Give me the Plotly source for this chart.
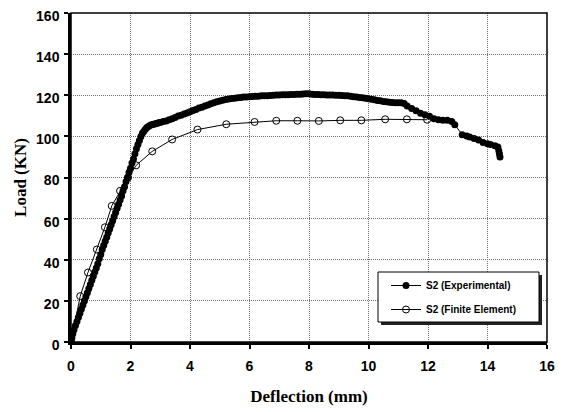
import plotly.graph_objects as go

# Experimental
exp_x = [0.00, 0.03, 0.06, 0.10, 0.15, 0.20, 0.25, 0.30, 0.35, 0.40, 0.45, 0.50, 0.55, 0.60, 0.65,
         0.70, 0.75, 0.80, 0.85, 0.90, 0.95, 1.00, 1.05, 1.10, 1.15, 1.20, 1.25, 1.30, 1.35, 1.40,
         1.45, 1.50, 1.55, 1.60, 1.65, 1.70, 1.75, 1.80, 1.85, 1.90, 1.95, 2.00, 2.05, 2.10, 2.15,
         2.20, 2.25, 2.30, 2.35, 2.40, 2.45, 2.50, 2.55, 2.60, 2.65, 2.70, 2.75, 2.80, 2.85, 2.90,
         2.95,
         3.0, 3.1, 3.2, 3.3, 3.4, 3.5, 3.6, 3.7, 3.8, 3.9, 4.0, 4.1, 4.2, 4.3, 4.4, 4.5, 4.6, 4.7,
         4.8, 4.9, 5.0, 5.1, 5.2, 5.3, 5.4, 5.5, 5.6, 5.7, 5.8, 5.9, 6.0, 6.1, 6.2, 6.3, 6.4, 6.5,
         6.6, 6.7, 6.8, 6.9, 7.0, 7.1, 7.2, 7.3, 7.4, 7.5, 7.6, 7.7, 7.8, 7.9, 8.0,
         8.1, 8.2, 8.3, 8.4, 8.5, 8.6, 8.7, 8.8, 8.9, 9.0, 9.1, 9.2, 9.3, 9.4, 9.5, 9.6, 9.7, 9.8,
         9.9, 10.0, 10.1, 10.2, 10.3, 10.4, 10.5, 10.6, 10.7, 10.8, 10.9, 11.0, 11.1, 11.2,
         11.3, 11.45, 11.6, 11.75, 11.9, 12.05, 12.2, 12.35, 12.5, 12.65, 12.8, 12.9,
         13.15, 13.3, 13.4, 13.55, 13.7, 13.85, 14.0, 14.1, 14.25, 14.35, 14.38, 14.4, 14.42]
exp_y = [0, 2, 4, 6, 8, 10, 12, 14, 16, 18, 20, 22, 24, 26, 28,
         30, 32, 34, 36, 38, 40.5, 42.5, 45, 47, 49, 51, 53, 55, 57, 59,
         61, 63, 65, 67, 69, 71, 73.5, 75.5, 78, 80, 82.5, 84.5, 87, 89, 91.5,
         94, 96, 98, 100, 101.5, 102.5, 103.5, 104.3, 104.8, 105.3, 105.6, 105.8, 106, 106.2, 106.4,
         106.6,
         106.8, 107.2, 107.5, 108.1, 108.6, 109.2, 109.9, 110.3, 110.9, 111.4, 112.0, 112.6, 113.1, 113.8, 114.2, 114.8, 115.3, 115.9,
         116.3, 116.8, 117.2, 117.6, 117.9, 118.2, 118.4, 118.6, 118.8, 118.9, 119.1, 119.1, 119.3, 119.4, 119.5, 119.5, 119.7, 119.8,
         119.8, 119.9, 120.0, 120.1, 120.1, 120.2, 120.2, 120.3, 120.4, 120.4, 120.5, 120.5, 120.6, 120.7, 120.7,
         120.5, 120.4, 120.4, 120.3, 120.2, 120.1, 120.1, 120.1, 120.0, 120.0, 119.9, 119.8, 119.7, 119.5, 119.3, 119.1, 118.9, 118.8,
         118.6, 118.3, 118.0, 117.8, 117.5, 117.3, 117.0, 116.8, 116.6, 116.5, 116.4, 116.4, 116.3, 116.0,
         114.8, 113.5, 112.5, 111.3, 110.5, 109.8, 108.6, 108.1, 107.9, 107.8, 107.2, 105.7,
         100.8, 100.2, 99.7, 99, 98.2, 97, 96.4, 96, 95.4, 94.8, 93, 91.5, 90]

# Finite element
fe_x = [0.0, 0.31, 0.57, 0.87, 1.14, 1.37, 1.65, 1.92, 2.19, 2.73, 3.40, 4.25, 5.22, 6.17,
        6.90, 7.61, 8.33, 9.05, 9.76, 10.56, 11.29, 11.97]
fe_y = [0, 22.3, 33.8, 45, 55.8, 66.2, 73.5, 80.0, 85.9, 92.7, 98.5, 103.3, 105.9, 107,
        107.6, 107.6, 107.5, 107.8, 107.8, 108.3, 108.3, 108.1]

x_ticks = [0, 2, 4, 6, 8, 10, 12, 14, 16]
y_ticks = [0, 20, 40, 60, 80, 100, 120, 140, 160]

fig = go.Figure()
fig.add_trace(go.Scatter(
    x=exp_x, y=exp_y, mode="lines+markers", name="S2 (Experimental)",
    line=dict(color="black", width=1),
    marker=dict(symbol="circle", size=7, color="black"),
    legendgroup="a"))
fig.add_trace(go.Scatter(
    x=fe_x, y=fe_y, mode="lines+markers", name="S2 (Finite Element)",
    line=dict(color="black", width=1),
    marker=dict(symbol="circle-open", size=7, color="black", line=dict(width=1)),
    legendgroup="b"))

OFF = 8  # page body margin
W, H = 563 - OFF, 412 - OFF
L, R, T, B = 71 - OFF, 16, 13 - OFF, 70
pw, ph = W - L - R, H - T - B

def px2paper_x(p):
    return (p - OFF - L) / pw

def px2paper_y(p):
    return (H + OFF - B - p) / ph

# legend box with shadow
bx0, bx1, by0, by1 = 378, 539, 272, 322
fig.add_shape(type="rect", xref="paper", yref="paper",
              x0=px2paper_x(bx0 + 3), x1=px2paper_x(bx1 + 3),
              y0=px2paper_y(by1 + 3), y1=px2paper_y(by0 + 3),
              fillcolor="#222222", line=dict(width=0), layer="above")
fig.add_shape(type="rect", xref="paper", yref="paper",
              x0=px2paper_x(bx0), x1=px2paper_x(bx1),
              y0=px2paper_y(by1), y1=px2paper_y(by0),
              fillcolor="white", line=dict(color="black", width=1), layer="above")
# frame top/right
fig.add_shape(type="rect", xref="paper", yref="paper", x0=0, x1=1, y0=0, y1=1,
              line=dict(color="black", width=1.5), layer="above")

fig.update_layout(
    width=W, height=H,
    margin=dict(l=L, r=R, t=T, b=B, autoexpand=False),
    paper_bgcolor="white", plot_bgcolor="white",
    showlegend=True,
    legend=dict(x=px2paper_x(386), y=px2paper_y(271), xanchor="left", yanchor="top",
                bgcolor="rgba(0,0,0,0)", borderwidth=0,
                font=dict(family="Liberation Sans, Arial", size=10, color="black", weight="bold"),
                traceorder="grouped", tracegroupgap=5),
    font=dict(family="Liberation Sans, Arial", color="black"),
)
common = dict(
    showgrid=True, gridcolor="#707070", griddash="1px,1px", gridwidth=1,
    showline=True, linecolor="black", linewidth=2.5,
    ticks="outside", ticklen=4, tickwidth=2, tickcolor="black",
    tickfont=dict(family="Liberation Sans, Arial", size=14, weight="bold", color="black"),
    ticklabeloverflow="allow",
    zeroline=False, automargin=False)
fig.update_xaxes(
    range=[0, 16], tickvals=x_ticks, ticktext=[str(v) for v in x_ticks],
    ticklabelstandoff=5,
    title=dict(text="Deflection (mm)", standoff=18,
               font=dict(family="Liberation Serif, Times New Roman", size=17, weight="bold")),
    **common)
fig.update_yaxes(
    range=[0, 160], tickvals=y_ticks, ticktext=[str(v) for v in y_ticks],
    ticklabelstandoff=2, ticklabelshift=3,
    title=dict(text="Load (KN)", standoff=6,
               font=dict(family="Liberation Serif, Times New Roman", size=17, weight="bold")),
    **common)

fig.write_html("out.html")
